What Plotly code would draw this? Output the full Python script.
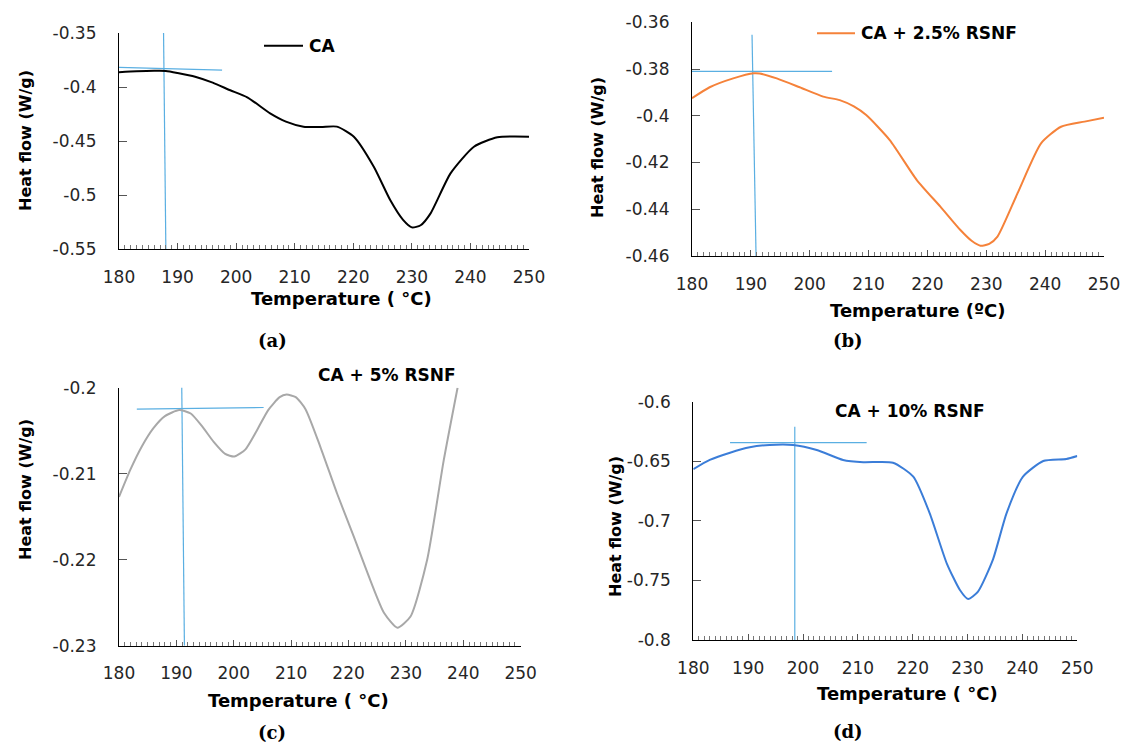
import plotly.graph_objects as go

W, H = 1123, 742          # target window in pixels
FW, FH = W, H             # figure size (body margin removed below)


def px(x):
    return x / FW


def py(y):
    return 1 - y / FH


# ---------------- data ----------------
a_T = [180, 183, 186, 188, 190, 193, 196, 199, 201.9, 205.8, 208.5, 211.5, 214.5, 217.2, 220.1, 223.5, 226.3, 228.5, 230.0, 231.5, 233.2, 236.6, 240.6, 244.6, 250]
a_HF = [-0.3864, -0.3855, -0.3850, -0.3851, -0.3870, -0.3905, -0.3960, -0.4030, -0.4095, -0.4244, -0.4320, -0.4367, -0.4370, -0.4367, -0.4460, -0.4738, -0.5046, -0.5230, -0.5300, -0.5280, -0.5170, -0.4800, -0.4553, -0.4466, -0.4460]

b_T = [180, 183.0, 187.0, 190.5, 191.5, 194.4, 198.3, 202.3, 205.1, 207.5, 209.6, 213.6, 218.2, 222.2, 225.6, 227.5, 229.0, 230.5, 231.9, 235.3, 239.3, 242.7, 246.7, 250]
b_HF = [-0.3925, -0.3878, -0.3840, -0.3818, -0.3819, -0.3840, -0.3878, -0.3918, -0.3933, -0.3960, -0.3997, -0.4104, -0.4275, -0.4389, -0.4489, -0.4535, -0.4556, -0.4548, -0.4517, -0.4332, -0.4118, -0.4047, -0.4025, -0.4008]

c_T = [180, 182.0, 184.0, 186.0, 188.0, 190.5, 192.5, 194.5, 196.5, 198.5, 200.1, 202.0, 204.0, 206.0, 208.0, 209.2, 210.8, 212.5, 215.1, 218.0, 220.9, 223.8, 226.2, 228.5, 230.8, 233.7, 236.6, 239.0]
c_HF = [-0.2127, -0.2095, -0.2068, -0.2047, -0.2033, -0.2026, -0.2030, -0.2045, -0.2063, -0.2077, -0.2080, -0.2072, -0.2050, -0.2026, -0.2011, -0.2008, -0.2011, -0.2025, -0.2069, -0.2123, -0.2173, -0.2224, -0.2262, -0.2279, -0.2266, -0.2200, -0.2084, -0.2000]

d_T = [180, 183.0, 186.7, 190.3, 193.9, 198.2, 202.5, 207.3, 211.0, 216.4, 220.1, 223.1, 226.2, 228.6, 230.1, 231.9, 234.6, 237.1, 240.1, 243.8, 248.0, 250]
d_HF = [-0.6567, -0.6489, -0.6428, -0.6383, -0.6363, -0.6363, -0.6405, -0.6489, -0.6508, -0.6512, -0.6629, -0.6937, -0.7356, -0.7580, -0.7656, -0.7594, -0.7328, -0.6937, -0.6629, -0.6498, -0.6481, -0.6456]

# tangent construction lines (onset markers)
a_tan_h_T = [180, 197.6]
a_tan_h_HF = [-0.3819, -0.3843]
a_tan_v_T = [187.6, 188.0]
a_tan_v_HF = [-0.346, -0.55]

b_tan_h_T = [180, 203.8]
b_tan_h_HF = [-0.3810, -0.3810]
b_tan_v_T = [190.2, 190.9]
b_tan_v_HF = [-0.3653, -0.4624]

c_tan_h_T = [183.1, 205.2]
c_tan_h_HF = [-0.2025, -0.2023]
c_tan_v_T = [190.9, 191.4]
c_tan_v_HF = [-0.1976, -0.2300]

d_tan_h_T = [186.7, 211.6]
d_tan_h_HF = [-0.6344, -0.6344]
d_tan_v_T = [198.5, 198.5]
d_tan_v_HF = [-0.621, -0.800]

x_ticks = [180, 190, 200, 210, 220, 230, 240, 250]
a_yticks = [-0.35, -0.4, -0.45, -0.5, -0.55]
b_yticks = [-0.36, -0.38, -0.4, -0.42, -0.44, -0.46]
c_yticks = [-0.2, -0.21, -0.22, -0.23]
d_yticks = [-0.6, -0.65, -0.7, -0.75, -0.8]

series_names = ["CA", "CA + 2.5% RSNF", "CA + 5% RSNF", "CA + 10% RSNF"]
captions = ["(a)", "(b)", "(c)", "(d)"]
colors = ["#000000", "#F5823A", "#A8A8A8", "#3B7DD8"]
tan_color = "#5AAFE2"

# ---------------- layout geometry (pixels) ----------------
panels = [
    dict(T=a_T, HF=a_HF, yt=a_yticks, tan=(a_tan_h_T, a_tan_h_HF, a_tan_v_T, a_tan_v_HF),
         bx=(119, 529), by=(33, 249)),
    dict(T=b_T, HF=b_HF, yt=b_yticks, tan=(b_tan_h_T, b_tan_h_HF, b_tan_v_T, b_tan_v_HF),
         bx=(692, 1104), by=(22.3, 256)),
    dict(T=c_T, HF=c_HF, yt=c_yticks, tan=(c_tan_h_T, c_tan_h_HF, c_tan_v_T, c_tan_v_HF),
         bx=(119, 520.7), by=(387.7, 645.7)),
    dict(T=d_T, HF=d_HF, yt=d_yticks, tan=(d_tan_h_T, d_tan_h_HF, d_tan_v_T, d_tan_v_HF),
         bx=(693.3, 1077.3), by=(401.7, 640)),
]

fig = go.Figure()
TICKFONT = dict(family="DejaVu Sans", size=17, color="#262626")


def fmt(v):
    return "%g" % v


for i, p in enumerate(panels):
    n = "" if i == 0 else str(i + 1)
    xa, ya = "x" + n, "y" + n
    t_h_T, t_h_HF, t_v_T, t_v_HF = p["tan"]
    fig.add_trace(go.Scatter(x=t_h_T, y=t_h_HF, mode="lines", xaxis=xa, yaxis=ya,
                             line=dict(color=tan_color, width=1.2), showlegend=False, hoverinfo="skip"))
    fig.add_trace(go.Scatter(x=t_v_T, y=t_v_HF, mode="lines", xaxis=xa, yaxis=ya,
                             line=dict(color=tan_color, width=1.2), showlegend=False, hoverinfo="skip"))
    fig.add_trace(go.Scatter(x=p["T"], y=p["HF"], mode="lines", xaxis=xa, yaxis=ya,
                             name=series_names[i],
                             line=dict(color=colors[i], width=2, shape="spline", smoothing=0.6),
                             showlegend=False))
    yt = p["yt"]
    xdom = [px(p["bx"][0]), px(p["bx"][1])]
    ydom = [py(p["by"][1]), py(p["by"][0])]
    fig.layout["xaxis" + n] = dict(
        domain=xdom, anchor=ya, range=[180, 250], tickvals=x_ticks,
        ticktext=[str(v) for v in x_ticks], automargin=False,
        showline=True, linecolor="#000000", linewidth=1.2, mirror=False,
        ticks="inside", ticklen=6, tickcolor="#555555", tickwidth=1,
        minor=dict(dtick=1, tick0=180, ticks="inside", ticklen=4, tickcolor="#777777", tickwidth=1),
        showgrid=False, zeroline=False, tickfont=TICKFONT, ticklabelstandoff=12,
    )
    fig.layout["yaxis" + n] = dict(
        domain=ydom, anchor=xa, range=[min(yt), max(yt)], tickvals=yt,
        ticktext=[fmt(v) for v in yt], automargin=False,
        showline=True, linecolor="#000000", linewidth=1.2,
        ticks="inside", ticklen=8, tickcolor="#555555", tickwidth=1,
        showgrid=False, zeroline=False, tickfont=TICKFONT, ticklabelstandoff=18,
    )

ann = []
TITLEFONT_Y = dict(family="DejaVu Sans", size=16, color="#000000")
TITLEFONT_X = dict(family="DejaVu Sans", size=18, color="#000000")
LEGFONT = dict(family="DejaVu Sans", size=17, color="#000000")
CAPFONT = dict(family="DejaVu Serif", size=18, color="#000000")

ytitle_pos = [(25, 141), (597, 148), (25, 490), (615, 527)]
xtitles = ["Temperature ( °C)", "Temperature (ºC)", "Temperature ( °C)", "Temperature ( °C)"]
xtitle_pos = [(341, 298), (918, 310), (298, 700), (907, 693)]
cap_pos = [(272, 340), (848, 340), (272, 732), (848, 731)]

for i in range(4):
    ann.append(dict(text="<b>Heat flow (W/g)</b>", x=px(ytitle_pos[i][0]), y=py(ytitle_pos[i][1]),
                    xref="paper", yref="paper", showarrow=False, textangle=-90, font=TITLEFONT_Y,
                    xanchor="center", yanchor="middle"))
    ann.append(dict(text="<b>%s</b>" % xtitles[i], x=px(xtitle_pos[i][0]), y=py(xtitle_pos[i][1]),
                    xref="paper", yref="paper", showarrow=False, font=TITLEFONT_X,
                    xanchor="center", yanchor="middle"))
    ann.append(dict(text="<b>%s</b>" % captions[i], x=px(cap_pos[i][0]), y=py(cap_pos[i][1]),
                    xref="paper", yref="paper", showarrow=False, font=CAPFONT,
                    xanchor="center", yanchor="middle"))

# legends
leg = [
    dict(line=(264, 303, 45.7), text_x=307, text_y=46, anchor="left"),
    dict(line=(817, 855, 33.3), text_x=859, text_y=33, anchor="left"),
    dict(line=None, text_x=387, text_y=375, anchor="center"),
    dict(line=None, text_x=910, text_y=411, anchor="center"),
]
shapes = []
for i, L in enumerate(leg):
    if L["line"]:
        x0, x1, yy = L["line"]
        shapes.append(dict(type="line", xref="paper", yref="paper", x0=px(x0), x1=px(x1),
                           y0=py(yy), y1=py(yy), line=dict(color=colors[i], width=2)))
    ann.append(dict(text="<b>%s</b>" % series_names[i], x=px(L["text_x"]), y=py(L["text_y"]),
                    xref="paper", yref="paper", showarrow=False, font=LEGFONT,
                    xanchor=L["anchor"], yanchor="middle"))

fig.update_layout(
    width=FW, height=FH, margin=dict(l=0, r=0, t=0, b=0, autoexpand=False),
    paper_bgcolor="white", plot_bgcolor="white",
    annotations=ann, shapes=shapes, showlegend=False,
)

fig.write_html("out.html", config={"displayModeBar": False},
               post_script="document.body.style.margin='0px';document.body.style.overflow='hidden';")
